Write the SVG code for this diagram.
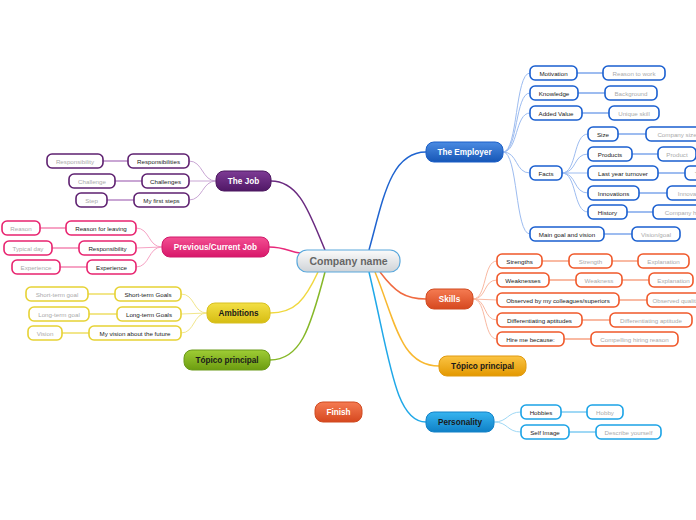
<svg xmlns="http://www.w3.org/2000/svg" width="696" height="520" viewBox="0 0 696 520">
<defs>
<linearGradient id="gC" x1="0" y1="0" x2="0" y2="1"><stop offset="0" stop-color="#fbfbfb"/><stop offset="1" stop-color="#cfd3d7"/></linearGradient>
<linearGradient id="gBlue" x1="0" y1="0" x2="0" y2="1"><stop offset="0" stop-color="#4b8be2"/><stop offset="1" stop-color="#1656b6"/></linearGradient>
<linearGradient id="gPur" x1="0" y1="0" x2="0" y2="1"><stop offset="0" stop-color="#7e3b95"/><stop offset="1" stop-color="#501866"/></linearGradient>
<linearGradient id="gPink" x1="0" y1="0" x2="0" y2="1"><stop offset="0" stop-color="#f34f92"/><stop offset="1" stop-color="#d8176a"/></linearGradient>
<linearGradient id="gYel" x1="0" y1="0" x2="0" y2="1"><stop offset="0" stop-color="#f3df45"/><stop offset="1" stop-color="#d6bd12"/></linearGradient>
<linearGradient id="gGrn" x1="0" y1="0" x2="0" y2="1"><stop offset="0" stop-color="#9fcd35"/><stop offset="1" stop-color="#6c9c10"/></linearGradient>
<linearGradient id="gRed" x1="0" y1="0" x2="0" y2="1"><stop offset="0" stop-color="#f57b52"/><stop offset="1" stop-color="#d6481f"/></linearGradient>
<linearGradient id="gOr" x1="0" y1="0" x2="0" y2="1"><stop offset="0" stop-color="#fbc444"/><stop offset="1" stop-color="#e39800"/></linearGradient>
<linearGradient id="gCy" x1="0" y1="0" x2="0" y2="1"><stop offset="0" stop-color="#36b4f0"/><stop offset="1" stop-color="#0f80c6"/></linearGradient>
</defs>
<style>
text{font-family:"Liberation Sans",Arial,sans-serif;text-anchor:middle;dominant-baseline:central}
.m{font-size:8.2px;font-weight:bold}
.w{fill:#fff}
.d{fill:#1a1a1a}
.c{font-size:6.2px;fill:#222}
.g{font-size:6.2px;fill:#aaa}
.cb{fill:#fff;stroke-width:1.6}
.main{stroke-width:1}
.con path{fill:none}
.blue{stroke:#1a5fd0}.pur{stroke:#5e2070}.pink{stroke:#e8236f}.yel{stroke:#e6d234}.red{stroke:#f0582a}.cy{stroke:#1ba3e6}
.lb{stroke:#9dbcf0}.lp{stroke:#c9a6d4}.lk{stroke:#f6a3c4}.ly{stroke:#f2e68a}.lr{stroke:#f9b9a2}.lc{stroke:#9fd8f5}
.t{stroke-width:1}
.h{stroke-width:2}
</style>

<g id="connectors" class="con">
<!-- main branches -->
<path d="M271,181 C300,181 310,215 325,250" stroke="#6a2a80" stroke-width="1.5"/>
<path d="M369,250 C383,200 390,152 426,152" stroke="#1f64d0" stroke-width="1.5"/>
<path d="M269,247 C285,247 290,252 300,253" stroke="#e8287a" stroke-width="1.5"/>
<path d="M318,272 C305,300 295,313 270,313" stroke="#f0d840" stroke-width="1.5"/>
<path d="M325,272 C310,330 300,360 270,360" stroke="#86b828" stroke-width="1.5"/>
<path d="M380,272 C395,292 405,299 426,299" stroke="#f06a40" stroke-width="1.5"/>
<path d="M375,272 C395,320 400,366 439,366" stroke="#f8b830" stroke-width="1.5"/>
<path d="M369,272 C390,360 395,422 426,422" stroke="#20a8e8" stroke-width="1.5"/>
<!-- Employer -->
<g class="lb">
<path class="t" d="M503,152 C518,152 515,73 530,73"/>
<path class="t" d="M503,152 C518,152 515,93 530,93"/>
<path class="t" d="M503,152 C518,152 515,113 530,113"/>
<path class="t" d="M503,152 C518,152 515,173 530,173"/>
<path class="t" d="M503,152 C518,152 515,234 530,234"/>
<path class="t" d="M562,173 C577,173 573,134 588,134"/>
<path class="t" d="M562,173 C577,173 573,154 588,154"/>
<path class="t" d="M562,173 L588,173"/>
<path class="t" d="M562,173 C577,173 573,193 588,193"/>
<path class="t" d="M562,173 C577,173 573,212 588,212"/>
<path class="h" d="M577,73 H603 M578,93 H605 M582,113 H609 M618,134 H646 M632,154 H658 M658,173 H685 M639,193 H667 M627,212 H653 M604,234 H632"/>
</g>
<!-- The Job -->
<g class="lp">
<path class="t" d="M216,181 C202,181 203,161 189,161"/>
<path class="t" d="M216,181 L189,181"/>
<path class="t" d="M216,181 C202,181 203,200 189,200"/>
<path class="h" d="M128,161 H103 M142,181 H115 M134,200 H107"/>
</g>
<!-- Previous -->
<g class="lk">
<path class="t" d="M162,247 C148,247 150,228 136,228"/>
<path class="t" d="M162,247 L136,248"/>
<path class="t" d="M162,247 C148,247 150,267 136,267"/>
<path class="h" d="M66,228 H40 M79,248 H52 M87,267 H60"/>
</g>
<!-- Ambitions -->
<g class="ly">
<path class="t" d="M207,313 C193,313 195,294 181,294"/>
<path class="t" d="M207,313 L181,314"/>
<path class="t" d="M207,313 C193,313 195,333 181,333"/>
<path class="h" d="M115,294 H88 M117,314 H89 M89,333 H62"/>
</g>
<!-- Skills -->
<g class="lr">
<path class="t" d="M473,299 C487,299 483,261 497,261"/>
<path class="t" d="M473,299 C487,299 483,280 497,280"/>
<path class="t" d="M473,299 L497,300"/>
<path class="t" d="M473,299 C487,299 483,320 497,320"/>
<path class="t" d="M473,299 C487,299 483,339 497,339"/>
<path class="h" d="M542,261 H569 M612,261 H638 M549,280 H576 M622,280 H649 M619,300 H647 M582,320 H610 M564,339 H591"/>
</g>
<!-- Personality -->
<g class="lc">
<path class="t" d="M494,422 C508,422 507,412 521,412"/>
<path class="t" d="M494,422 C508,422 507,432 521,432"/>
<path class="h" d="M561,412 H587 M569,432 H596"/>
</g>
</g>

<g id="center">
<rect x="297" y="250" width="103" height="22" rx="10" fill="url(#gC)" stroke="#5aa8dc" stroke-width="1.2"/>
<text x="348.5" y="261" style="font-size:10.5px;font-weight:bold;fill:#666">Company name</text>
</g>

<g id="employer">
<rect x="426" y="142" width="77" height="20" rx="8" fill="url(#gBlue)" stroke="#1a5fc8" class="main"/>
<text class="m w" x="464.5" y="152">The Employer</text>
</g>
<g id="emp-children">
<g id="motivation"><rect class="cb blue" x="530" y="66" width="47" height="14" rx="5"/><text class="c" x="553.5" y="73">Motivation</text></g>
<g id="reason-to-work"><rect class="cb blue" x="603" y="66" width="62" height="14" rx="5"/><text class="g" x="634" y="73">Reason to work</text></g>
<g id="knowledge"><rect class="cb blue" x="530" y="86" width="48" height="14" rx="5"/><text class="c" x="554" y="93">Knowledge</text></g>
<g id="background"><rect class="cb blue" x="605" y="86" width="52" height="14" rx="5"/><text class="g" x="631" y="93">Background</text></g>
<g id="added-value"><rect class="cb blue" x="530" y="106" width="52" height="14" rx="5"/><text class="c" x="556" y="113">Added Value</text></g>
<g id="unique-skill"><rect class="cb blue" x="609" y="106" width="50" height="14" rx="5"/><text class="g" x="634" y="113">Unique skill</text></g>
<g id="facts"><rect class="cb blue" x="530" y="166" width="32" height="14" rx="5"/><text class="c" x="546" y="173">Facts</text></g>
<g id="size"><rect class="cb blue" x="588" y="127" width="30" height="14" rx="5"/><text class="c" x="603" y="134">Size</text></g>
<g id="company-size"><rect class="cb blue" x="646" y="127" width="62" height="14" rx="5"/><text class="g" x="677" y="134">Company size</text></g>
<g id="products"><rect class="cb blue" x="588" y="147" width="44" height="14" rx="5"/><text class="c" x="610" y="154">Products</text></g>
<g id="product"><rect class="cb blue" x="658" y="147" width="38" height="14" rx="5"/><text class="g" x="677" y="154">Product</text></g>
<g id="turnover-last"><rect class="cb blue" x="588" y="166" width="70" height="14" rx="5"/><text class="c" x="623" y="173">Last year turnover</text></g>
<g id="turnover"><rect class="cb blue" x="685" y="166" width="44" height="14" rx="5"/><text class="g" x="707" y="173">Turnover</text></g>
<g id="innovations"><rect class="cb blue" x="588" y="186" width="51" height="14" rx="5"/><text class="c" x="613.5" y="193">Innovations</text></g>
<g id="innovation"><rect class="cb blue" x="667" y="186" width="50" height="14" rx="5"/><text class="g" x="692" y="193">Innovation</text></g>
<g id="history"><rect class="cb blue" x="588" y="205" width="39" height="14" rx="5"/><text class="c" x="607.5" y="212">History</text></g>
<g id="company-history"><rect class="cb blue" x="653" y="205" width="70" height="14" rx="5"/><text class="g" x="688" y="212">Company history</text></g>
<g id="main-goal"><rect class="cb blue" x="530" y="227" width="74" height="14" rx="5"/><text class="c" x="567" y="234">Main goal and vision</text></g>
<g id="vision-goal"><rect class="cb blue" x="632" y="227" width="48" height="14" rx="5"/><text class="g" x="656" y="234">Vision/goal</text></g>
</g>

<g id="the-job">
<rect x="216" y="171" width="55" height="20" rx="8" fill="url(#gPur)" stroke="#4d1860" class="main"/>
<text class="m w" x="243.5" y="181">The Job</text>
</g>
<g id="job-children">
<g id="responsibilities"><rect class="cb pur" x="128" y="154" width="61" height="14" rx="5"/><text class="c" x="158.5" y="161">Responsibilities</text></g>
<g id="responsibility-g"><rect class="cb pur" x="47" y="154" width="56" height="14" rx="5"/><text class="g" x="75" y="161">Responsibility</text></g>
<g id="challenges"><rect class="cb pur" x="142" y="174" width="47" height="14" rx="5"/><text class="c" x="165.5" y="181">Challenges</text></g>
<g id="challenge"><rect class="cb pur" x="69" y="174" width="46" height="14" rx="5"/><text class="g" x="92" y="181">Challenge</text></g>
<g id="first-steps"><rect class="cb pur" x="134" y="193" width="55" height="14" rx="5"/><text class="c" x="161.5" y="200">My first steps</text></g>
<g id="step"><rect class="cb pur" x="76" y="193" width="31" height="14" rx="5"/><text class="g" x="91.5" y="200">Step</text></g>
</g>

<g id="previous-job">
<rect x="162" y="237" width="107" height="20" rx="8" fill="url(#gPink)" stroke="#d0186a" class="main"/>
<text class="m w" x="215.5" y="247">Previous/Current Job</text>
</g>
<g id="prev-children">
<g id="reason-leaving"><rect class="cb pink" x="66" y="221" width="70" height="14" rx="5"/><text class="c" x="101" y="228">Reason for leaving</text></g>
<g id="reason"><rect class="cb pink" x="2" y="221" width="38" height="14" rx="5"/><text class="g" x="21" y="228">Reason</text></g>
<g id="responsibility"><rect class="cb pink" x="79" y="241" width="57" height="14" rx="5"/><text class="c" x="107.5" y="248">Responsibility</text></g>
<g id="typical-day"><rect class="cb pink" x="4" y="241" width="48" height="14" rx="5"/><text class="g" x="28" y="248">Typical day</text></g>
<g id="experience"><rect class="cb pink" x="87" y="260" width="49" height="14" rx="5"/><text class="c" x="111.5" y="267">Experience</text></g>
<g id="experience-g"><rect class="cb pink" x="12" y="260" width="48" height="14" rx="5"/><text class="g" x="36" y="267">Experience</text></g>
</g>

<g id="ambitions">
<rect x="207" y="303" width="63" height="20" rx="8" fill="url(#gYel)" stroke="#d8c020" class="main"/>
<text class="m d" x="238.5" y="313">Ambitions</text>
</g>
<g id="amb-children">
<g id="short-goals"><rect class="cb yel" x="115" y="287" width="66" height="14" rx="5"/><text class="c" x="148" y="294">Short-term Goals</text></g>
<g id="short-goal"><rect class="cb yel" x="26" y="287" width="62" height="14" rx="5"/><text class="g" x="57" y="294">Short-term goal</text></g>
<g id="long-goals"><rect class="cb yel" x="117" y="307" width="64" height="14" rx="5"/><text class="c" x="149" y="314">Long-term Goals</text></g>
<g id="long-goal"><rect class="cb yel" x="29" y="307" width="60" height="14" rx="5"/><text class="g" x="59" y="314">Long-term goal</text></g>
<g id="my-vision"><rect class="cb yel" x="89" y="326" width="92" height="14" rx="5"/><text class="c" x="135" y="333">My vision about the future</text></g>
<g id="vision"><rect class="cb yel" x="28" y="326" width="34" height="14" rx="5"/><text class="g" x="45" y="333">Vision</text></g>
</g>

<g id="topico-green">
<rect x="184" y="350" width="86" height="20" rx="8" fill="url(#gGrn)" stroke="#6a9a18" class="main"/>
<text class="m d" x="227" y="360">Tópico principal</text>
</g>

<g id="skills">
<rect x="426" y="289" width="47" height="20" rx="8" fill="url(#gRed)" stroke="#d04a20" class="main"/>
<text class="m w" x="449.5" y="299">Skills</text>
</g>
<g id="skills-children">
<g id="strengths"><rect class="cb red" x="497" y="254" width="45" height="14" rx="5"/><text class="c" x="519.5" y="261">Strengths</text></g>
<g id="strength"><rect class="cb red" x="569" y="254" width="43" height="14" rx="5"/><text class="g" x="590.5" y="261">Strength</text></g>
<g id="explanation1"><rect class="cb red" x="638" y="254" width="51" height="14" rx="5"/><text class="g" x="663.5" y="261">Explanation</text></g>
<g id="weaknesses"><rect class="cb red" x="497" y="273" width="52" height="14" rx="5"/><text class="c" x="523" y="280">Weaknesses</text></g>
<g id="weakness"><rect class="cb red" x="576" y="273" width="46" height="14" rx="5"/><text class="g" x="599" y="280">Weakness</text></g>
<g id="explanation2"><rect class="cb red" x="649" y="273" width="44" height="14" rx="5"/><text class="g" x="673.5" y="280">Explanation</text></g>
<g id="observed"><rect class="cb red" x="497" y="293" width="122" height="14" rx="5"/><text class="c" x="558" y="300">Observed by my colleagues/superiors</text></g>
<g id="observed-q"><rect class="cb red" x="647" y="293" width="62" height="14" rx="5"/><text class="g" x="678" y="300">Observed qualities</text></g>
<g id="diff-apt"><rect class="cb red" x="497" y="313" width="85" height="14" rx="5"/><text class="c" x="539.5" y="320">Differentiating aptitudes</text></g>
<g id="diff-apt-g"><rect class="cb red" x="610" y="313" width="82" height="14" rx="5"/><text class="g" x="651" y="320">Differentiating aptitude</text></g>
<g id="hire-me"><rect class="cb red" x="497" y="332" width="67" height="14" rx="5"/><text class="c" x="530.5" y="339">Hire me because:</text></g>
<g id="compelling"><rect class="cb red" x="591" y="332" width="87" height="14" rx="5"/><text class="g" x="634.5" y="339">Compelling hiring reason</text></g>
</g>

<g id="topico-orange">
<rect x="439" y="356" width="87" height="20" rx="8" fill="url(#gOr)" stroke="#e09a10" class="main"/>
<text class="m d" x="482.5" y="366">Tópico principal</text>
</g>

<g id="finish">
<rect x="315" y="402" width="47" height="20" rx="8" fill="url(#gRed)" stroke="#d04a20" class="main"/>
<text class="m w" x="338.5" y="412">Finish</text>
</g>

<g id="personality">
<rect x="426" y="412" width="68" height="20" rx="8" fill="url(#gCy)" stroke="#1282c8" class="main"/>
<text class="m d" x="460" y="422">Personality</text>
</g>
<g id="pers-children">
<g id="hobbies"><rect class="cb cy" x="521" y="405" width="40" height="14" rx="5"/><text class="c" x="541" y="412">Hobbies</text></g>
<g id="hobby"><rect class="cb cy" x="587" y="405" width="36" height="14" rx="5"/><text class="g" x="605" y="412">Hobby</text></g>
<g id="self-image"><rect class="cb cy" x="521" y="425" width="48" height="14" rx="5"/><text class="c" x="545" y="432">Self Image</text></g>
<g id="describe"><rect class="cb cy" x="596" y="425" width="65" height="14" rx="5"/><text class="g" x="628.5" y="432">Describe yourself</text></g>
</g>
</svg>
